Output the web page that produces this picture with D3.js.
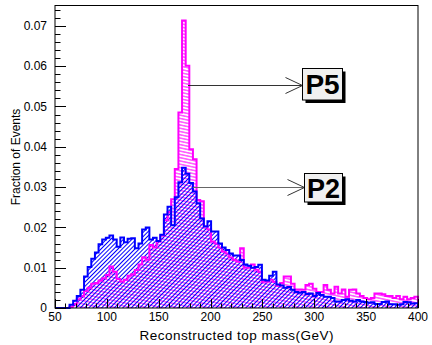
<!DOCTYPE html>
<html><head><meta charset="utf-8">
<script src="https://cdn.jsdelivr.net/npm/d3@7/dist/d3.min.js"></script>
<style>body{margin:0;background:#fff}svg{display:block}text{font-family:"Liberation Sans",Arial,sans-serif}</style>
</head><body><svg id="c" width="432" height="345"></svg>
<script>
// Histogram bins: 100 bins of 3.5 GeV from 50 to 400
const binLow = d3.range(100).map(i => 50 + 3.5 * i);
const binWidth = 3.5;
// P2 (blue) fraction of events per bin
const p2 = [0,0,0,0,0.0008,0.0018,0.0030,0.0045,0.0078,0.0102,
  0.0122,0.0138,0.0158,0.0170,0.0174,0.0180,0.0170,0.0152,0.0175,0.0163,
  0.0172,0.0173,0.0148,0.0160,0.0195,0.0200,0.0170,0.0174,0.0166,0.0182,
  0.0232,0.0251,0.0205,0.0275,0.0312,0.0348,0.0333,0.0310,0.0289,0.0260,
  0.0222,0.0202,0.0215,0.0190,0.0190,0.0160,0.0150,0.0144,0.0135,0.0130,
  0.0130,0.0119,0.0108,0.0105,0.0100,0.0102,0.0107,0.0070,0.0068,0.0080,
  0.0090,0.0058,0.0056,0.0050,0.0052,0.0045,0.0040,0.0038,0.0040,0.0035,
  0.0036,0.0030,0.0037,0.0032,0.0028,0.0028,0.0025,0.0016,0.0016,0.0020,
  0.0022,0.0018,0.0016,0.0020,0.0016,0.0015,0.0013,0.0014,0.0010,0.0010,
  0.0015,0.0016,0.0009,0.0009,0.0008,0.0009,0.0015,0.0014,0.0011,0.0012];
// P5 (magenta) fraction of events per bin
const p5 = [0,0,0,0,0.0003,0.0010,0.0022,0.0030,0.0042,0.0050,
  0.0060,0.0062,0.0068,0.0074,0.0082,0.0103,0.0090,0.0072,0.0066,0.0070,
  0.0080,0.0084,0.0094,0.0108,0.0126,0.0120,0.0156,0.0150,0.0165,0.0180,
  0.0218,0.0238,0.0270,0.0345,0.0485,0.0713,0.0601,0.0394,0.0369,0.0268,
  0.0265,0.0203,0.0195,0.0165,0.0160,0.0150,0.0140,0.0135,0.0125,0.0120,
  0.0115,0.0148,0.0100,0.0100,0.0108,0.0095,0.0090,0.0065,0.0065,0.0070,
  0.0065,0.0055,0.0062,0.0078,0.0078,0.0060,0.0046,0.0046,0.0045,0.0057,
  0.0060,0.0048,0.0040,0.0040,0.0057,0.0045,0.0036,0.0053,0.0036,0.0046,
  0.0028,0.0045,0.0046,0.0036,0.0030,0.0025,0.0022,0.0025,0.0036,0.0036,
  0.0034,0.0030,0.0030,0.0025,0.0030,0.0022,0.0028,0.0022,0.0025,0.0028];
const xTicks = [50,100,150,200,250,300,350,400];
const yTicks = [0,0.01,0.02,0.03,0.04,0.05,0.06,0.07];
const yTickLabels = ["0","0.01","0.02","0.03","0.04","0.05","0.06","0.07"];
const xTitle = "Reconstructed top mass(GeV)";
const yTitle = "Fraction of Events";
const labels = [{name:"P5", at:[188,0.0553]},
                {name:"P2", at:[193,0.0299]}];

const svg = d3.select("#c");
const x = d3.scaleLinear().domain([50,400]).range([55,418]);
const y = d3.scaleLinear().domain([0,0.075]).range([308,5.7]);

const defs = svg.append("defs");
function hatch(id, color, spacing, angle){
  const p = defs.append("pattern").attr("id",id).attr("patternUnits","userSpaceOnUse")
    .attr("width",10).attr("height",spacing).attr("patternTransform",`rotate(${angle})`);
  p.append("line").attr("x1",0).attr("x2",10).attr("y1",spacing/2).attr("y2",spacing/2)
    .attr("stroke",color).attr("stroke-width",1);
}
hatch("hm","#ff00ff",3.2,12);
hatch("hb","#0000ff",3.0,-45);

function stepPath(vals){
  const p = d3.path();
  p.moveTo(x(50), y(0));
  vals.forEach((v,i)=>{ p.lineTo(x(binLow[i]), y(v)); p.lineTo(x(binLow[i]+binWidth), y(v)); });
  p.lineTo(x(400), y(0));
  return p.toString();
}
const g = svg.append("g");
g.append("path").attr("d", stepPath(p5)+"Z").attr("fill","url(#hm)").attr("stroke","none");
g.append("path").attr("d", stepPath(p2)+"Z").attr("fill","url(#hb)").attr("stroke","none");
g.append("path").attr("d", stepPath(p5)).attr("fill","none").attr("stroke","#ff00ff").attr("stroke-width",2);
g.append("path").attr("d", stepPath(p2)).attr("fill","none").attr("stroke","#0000ff").attr("stroke-width",2);

// frame
svg.append("rect").attr("x",55).attr("y",5.5).attr("width",363).attr("height",302.5)
  .attr("fill","none").attr("stroke","#000").attr("stroke-width",1);

// y axis
const yMinor = d3.range(0,0.0751,0.002);
const ya = svg.append("g");
ya.selectAll("line.mn").data(yMinor).join("line").attr("x1",55).attr("x2",60.5)
  .attr("y1",d=>Math.round(y(d))+0.5).attr("y2",d=>Math.round(y(d))+0.5).attr("stroke","#000");
ya.selectAll("line.mj").data(yTicks).join("line").attr("x1",55).attr("x2",66)
  .attr("y1",d=>Math.round(y(d))+0.5).attr("y2",d=>Math.round(y(d))+0.5).attr("stroke","#000");
ya.selectAll("text").data(yTicks).join("text").attr("x",47).attr("y",d=>y(d)+4.3)
  .attr("text-anchor","end").attr("font-size",12).text((d,i)=>yTickLabels[i]);

// x axis
const xMinor = d3.range(50,401,10);
const xa = svg.append("g");
xa.selectAll("line.mn").data(xMinor).join("line").attr("y1",308).attr("y2",303.5)
  .attr("x1",d=>Math.round(x(d))+0.5).attr("x2",d=>Math.round(x(d))+0.5).attr("stroke","#000");
xa.selectAll("line.mj").data(xTicks).join("line").attr("y1",308).attr("y2",299)
  .attr("x1",d=>Math.round(x(d))+0.5).attr("x2",d=>Math.round(x(d))+0.5).attr("stroke","#000");
xa.selectAll("text").data(xTicks).join("text").attr("x",d=>x(d)).attr("y",320.5)
  .attr("text-anchor","middle").attr("font-size",12).text(d=>d);

svg.append("text").attr("x",236.5).attr("y",340).attr("text-anchor","middle")
  .attr("font-size",13.5).attr("textLength",194).attr("lengthAdjust","spacing").text(xTitle);
svg.append("text").attr("transform","translate(20,157) rotate(-90)").attr("text-anchor","middle")
  .attr("font-size",12).text(yTitle);

// labels with arrows
labels.forEach(L=>{
  const yy = Math.round(y(L.at[1]))+0.5;
  const bx = L.name==="P5" ? 302.5 : 304.5;
  const by = L.name==="P5" ? 68.5 : 173.5;
  const bw = L.name==="P5" ? 40 : 38;
  const bh = L.name==="P5" ? 31.5 : 28.5;
  svg.append("line").attr("x1",L.at[0]).attr("x2",bx).attr("y1",yy).attr("y2",yy)
    .attr("stroke", L.name==="P5" ? "#333" : "#666").attr("stroke-width",1);
  svg.append("path").attr("d",`M${bx-17},${yy-8}L${bx},${yy}L${bx-17},${yy+8}`)
    .attr("fill","none").attr("stroke","#333").attr("stroke-width",1);
  svg.append("rect").attr("x",bx+3).attr("y",by+3).attr("width",bw).attr("height",bh).attr("fill","#000");
  svg.append("rect").attr("x",bx).attr("y",by).attr("width",bw).attr("height",bh)
    .attr("fill","#f0f0f0").attr("stroke","#000").attr("stroke-width",1);
  svg.append("text").attr("x",bx+bw/2).attr("y",by+bh/2+10).attr("text-anchor","middle")
    .attr("font-size",L.name==="P5"?28:27).attr("font-weight","bold").text(L.name);
});
</script></body></html>
